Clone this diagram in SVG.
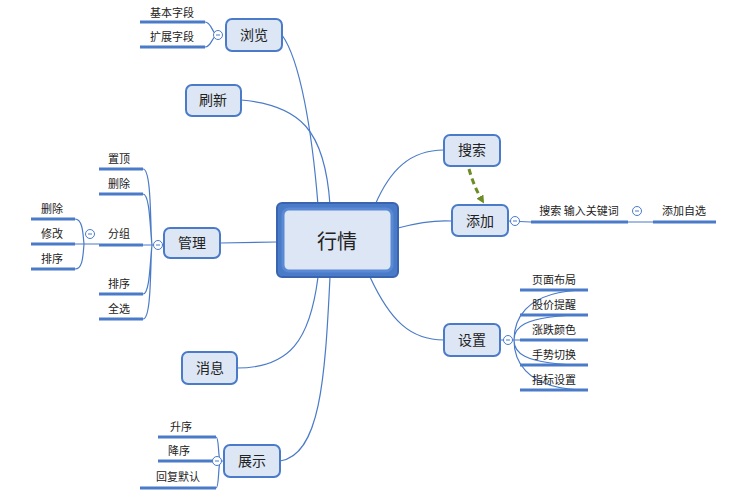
<svg xmlns="http://www.w3.org/2000/svg" width="741" height="500" viewBox="0 0 741 500">
<style>
text{font-family:"Noto Sans CJK SC","Liberation Sans",sans-serif;fill:#222;text-anchor:middle}
.n rect{fill:#dce6f4;stroke:#4a7bc8;stroke-width:2}
.n text{font-size:14px}
.lf text{font-size:11px}
.lf line{stroke:#4a7bc8;stroke-width:3}
.c{fill:none;stroke:#4a7bc8;stroke-width:1.2}
.k{fill:#fff;stroke:#4a7bc8;stroke-width:1}
.km{stroke:#4a7bc8;stroke-width:1}
</style>
<defs><marker id="ah" markerWidth="8" markerHeight="8" refX="4" refY="4" orient="auto" markerUnits="userSpaceOnUse"><path d="M0,0 L8,4 L0,8 Z" fill="#6b8e23"/></marker></defs>
<rect width="741" height="500" fill="#fff"/>
<g id="connectors">
<path class="c" d="M318,205 C312,130 300,60 282,35"/>
<path class="c" d="M330,205 C325,130 300,105 241,100"/>
<path class="c" d="M277,242 L220,243"/>
<path class="c" d="M318,277 C310,340 290,368 237,368"/>
<path class="c" d="M330,277 C325,380 320,455 280,461"/>
<path class="c" d="M375,205 C390,170 410,150 444,150"/>
<path class="c" d="M398,228 C420,222 435,220 452,221"/>
<path class="c" d="M370,277 C390,320 410,340 444,340"/>
<path d="M469,169 C472,180 476,190 482,200" fill="none" stroke="#6b8e23" stroke-width="3" stroke-dasharray="6,4" marker-end="url(#ah)"/>
<!-- leaf braces -->
<path class="c" d="M205,22 C212,22 212,35 218,35 M205,47 C212,47 212,35 218,35"/>
<path class="c" d="M143,169 C152,169 150,230 152,245 M143,194 C150,194 150,230 152,245 M143,294 C150,294 150,260 152,245 M143,319 C152,319 150,260 152,245 M143,245 L164,245"/>
<path class="c" d="M75,219 C83,219 83,235 84,244 M75,269 C83,269 83,255 84,244 M75,244 L99,244"/>
<path class="c" d="M508,221 L531,222 M628,222 L653,222"/>
<path class="c" d="M588,290 C520,290 514,325 514,340 M588,315 C518,315 514,330 514,340 M588,365 C518,365 514,350 514,340 M588,390 C520,390 514,355 514,340 M500,340 L520,340"/>
<path class="c" d="M216,437 C219,437 218,455 220,461 M216,488 C219,488 218,470 220,461 M216,461 L224,461"/>
</g>
<g id="n0"><rect x="277" y="203" width="121" height="74" rx="5" fill="#4a7bc8" stroke="#3a64b0" stroke-width="2"/><rect x="283" y="209" width="109" height="62" rx="6" fill="#dce6f4" stroke="#5a8ad4" stroke-width="3"/><text x="337" y="249" font-size="20" fill="#1f3050">行情</text></g>
<g id="n1" class="n"><rect x="226" y="19" width="56" height="32" rx="6"/><text x="254" y="40">浏览</text></g>
<g id="n2" class="n"><rect x="186" y="85" width="55" height="31" rx="6"/><text x="213" y="105">刷新</text></g>
<g id="n3" class="n"><rect x="164" y="228" width="56" height="30" rx="6"/><text x="192" y="248">管理</text></g>
<g id="n4" class="n"><rect x="182" y="352" width="55" height="32" rx="6"/><text x="210" y="373">消息</text></g>
<g id="n5" class="n"><rect x="224" y="445" width="56" height="32" rx="6"/><text x="252" y="466">展示</text></g>
<g id="n6" class="n"><rect x="444" y="135" width="56" height="31" rx="6"/><text x="472" y="155">搜索</text></g>
<g id="n7" class="n"><rect x="452" y="205" width="56" height="31" rx="6"/><text x="480" y="226">添加</text></g>
<g id="n8" class="n"><rect x="444" y="324" width="56" height="32" rx="6"/><text x="472" y="345">设置</text></g>
<g id="leaves" class="lf">
<line x1="140" y1="22" x2="205" y2="22"/><text x="172" y="17">基本字段</text>
<line x1="140" y1="47" x2="205" y2="47"/><text x="172" y="41">扩展字段</text>
<line x1="99" y1="169" x2="143" y2="169"/><text x="119" y="163">置顶</text>
<line x1="99" y1="194" x2="143" y2="194"/><text x="119" y="188">删除</text>
<line x1="99" y1="245" x2="143" y2="245"/><text x="119" y="238">分组</text>
<line x1="99" y1="294" x2="143" y2="294"/><text x="119" y="288">排序</text>
<line x1="99" y1="319" x2="143" y2="319"/><text x="119" y="313">全选</text>
<line x1="31" y1="219" x2="75" y2="219"/><text x="52" y="213">删除</text>
<line x1="31" y1="244" x2="75" y2="244"/><text x="52" y="238">修改</text>
<line x1="31" y1="269" x2="75" y2="269"/><text x="52" y="263">排序</text>
<line x1="531" y1="222" x2="628" y2="222"/><text x="579" y="215">搜索 输入关键词</text>
<line x1="653" y1="222" x2="716" y2="222"/><text x="684" y="215">添加自选</text>
<line x1="520" y1="290" x2="588" y2="290"/><text x="554" y="284">页面布局</text>
<line x1="520" y1="315" x2="588" y2="315"/><text x="554" y="309">股价提醒</text>
<line x1="520" y1="340" x2="588" y2="340"/><text x="554" y="334">涨跌颜色</text>
<line x1="520" y1="365" x2="588" y2="365"/><text x="554" y="359">手势切换</text>
<line x1="520" y1="390" x2="588" y2="390"/><text x="554" y="384">指标设置</text>
<line x1="158" y1="437" x2="216" y2="437"/><text x="181" y="431">升序</text>
<line x1="158" y1="461" x2="216" y2="461"/><text x="179" y="455">降序</text>
<line x1="140" y1="488" x2="216" y2="488"/><text x="178" y="481">回复默认</text>
</g>
<g id="collapse">
<circle class="k" cx="218" cy="35" r="4.5"/><line class="km" x1="216" y1="35" x2="220" y2="35"/>
<circle class="k" cx="158" cy="245" r="4.5"/><line class="km" x1="156" y1="245" x2="160" y2="245"/>
<circle class="k" cx="90" cy="234" r="4.5"/><line class="km" x1="88" y1="234" x2="92" y2="234"/>
<circle class="k" cx="515" cy="221" r="4.5"/><line class="km" x1="513" y1="221" x2="517" y2="221"/>
<circle class="k" cx="637" cy="211" r="4.5"/><line class="km" x1="635" y1="211" x2="639" y2="211"/>
<circle class="k" cx="508" cy="340" r="4.5"/><line class="km" x1="506" y1="340" x2="510" y2="340"/>
<circle class="k" cx="217" cy="461" r="4.5"/><line class="km" x1="215" y1="461" x2="219" y2="461"/>
</g>
</svg>
